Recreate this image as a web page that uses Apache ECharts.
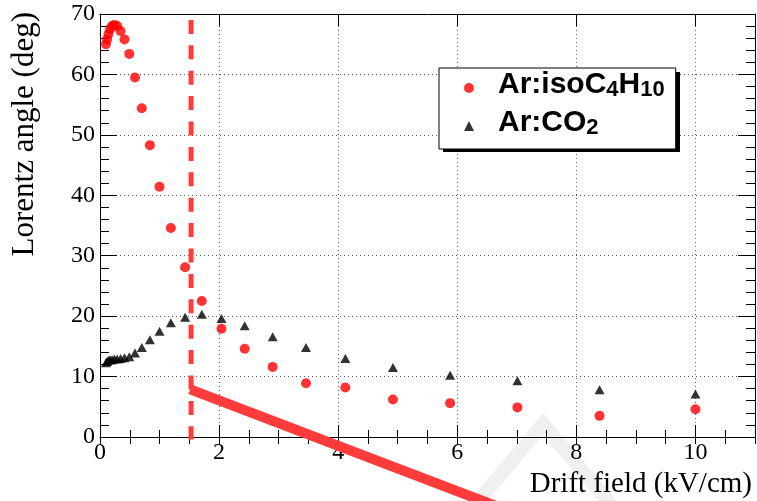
<!DOCTYPE html>
<html lang="en">
<head>
<meta charset="UTF-8">
<title>Lorentz angle vs drift field</title>
<script src="https://cdn.jsdelivr.net/npm/echarts@6/dist/echarts.min.js"></script>
<style>html,body{margin:0;padding:0;background:#fff}</style>
</head>
<body>
<div id="main" style="width:757px;height:501px"></div>
<script>
// drift field points (kV/cm), shared by both gas mixtures
var driftField = [0.100, 0.119, 0.142, 0.170, 0.203, 0.242, 0.289, 0.346, 0.412, 0.492,
                  0.588, 0.702, 0.838, 1.00, 1.19, 1.43, 1.71, 2.04, 2.43, 2.90,
                  3.46, 4.12, 4.92, 5.88, 7.01, 8.39, 10.0];
// Lorentz angle (deg)
var angleIsobutane = [65.0, 65.8, 66.7, 67.5, 68.0, 68.2, 68.0, 67.2, 65.8, 63.4,
                      59.5, 54.4, 48.3, 41.4, 34.6, 28.1, 22.5, 17.9, 14.6, 11.6,
                      8.9, 8.2, 6.2, 5.6, 4.9, 3.5, 4.6];
var angleCO2 = [12.3, 12.5, 12.7, 12.8, 12.8, 12.9, 12.9, 13.0, 13.1, 13.3,
                13.9, 14.8, 16.1, 17.5, 18.9, 19.8, 20.3, 19.6, 18.4, 16.6,
                14.8, 13.0, 11.5, 10.2, 9.3, 7.8, 7.1];
var seriesNames = ['Ar:isoC4H10', 'Ar:CO2'];

// red annotations drawn over the plot
var cutField = 1.53;
var cutMarker = [[cutField, 70], [cutField, -0.4]];
var slashLine = [[1.515, 7.88], [6.7, -11.6]];

function zip(xs, ys) {
    return xs.map(function (x, i) { return [x, ys[i]]; });
}

var serif = 'Liberation Serif';
var frameLine = {show: true, onZero: false, lineStyle: {color: '#000', width: 1}};
var dots = {show: true, lineStyle: {color: '#555', width: 1, type: [1, 3]}};
var noLabel = {show: false};

function edgeX(pos, step, len) {
    return {type: 'value', position: pos, min: 0, max: 11, interval: step,
        axisLine: step === 2 ? frameLine : {show: false},
        axisTick: {inside: true, length: len, lineStyle: {color: '#000'}},
        axisLabel: noLabel, splitLine: {show: false}};
}

var chart = echarts.init(document.getElementById('main'));
var option = {
    animation: false,
    backgroundColor: '#fff',
    grid: {left: 100, right: 2, top: 14, bottom: 64},
    legend: {
        data: [{name: seriesNames[0], icon: 'circle'}, {name: seriesNames[1], icon: 'triangle'}],
        orient: 'vertical',
        left: 439, top: 68,
        padding: [2, 11, 10, 25],
        itemGap: 7,
        itemWidth: 10, itemHeight: 10,
        z: 10,
        backgroundColor: '#fff', borderColor: '#000', borderWidth: 1,
        formatter: function (name) {
            if (name === seriesNames[0]) return '{m|Ar:isoC}{s|4}{m|H}{s|10}';
            return '{m|Ar:CO}{s|2}';
        },
        textStyle: {
            color: '#000',
            padding: [0, 0, 6, 19],
            rich: {
                m: {fontFamily: 'Liberation Sans', fontWeight: 'bold', fontSize: 30, lineHeight: 32, color: '#000'},
                s: {fontFamily: 'Liberation Sans', fontWeight: 'bold', fontSize: 22, lineHeight: 8,
                    verticalAlign: 'bottom', color: '#000'}
            }
        }
    },
    xAxis: [
        {
            type: 'value', position: 'bottom', min: 0, max: 11, interval: 2,
            axisLine: frameLine,
            axisTick: {inside: true, length: 12, lineStyle: {color: '#000'}},
            splitLine: dots,
            axisLabel: {margin: 4, color: '#000', fontFamily: serif, fontSize: 24, showMaxLabel: false},
            name: 'Drift field (kV/cm)', nameLocation: 'end', nameGap: -3,
            nameTextStyle: {fontFamily: serif, fontSize: 29, color: '#000',
                align: 'right', verticalAlign: 'top', padding: [33, 0, 0, 0]}
        },
        edgeX('top', 2, 12),
        edgeX('bottom', 0.5, 7),
        edgeX('top', 0.5, 7)
    ],
    yAxis: [
        {
            type: 'value', position: 'left', min: 0, max: 70, interval: 10,
            axisLine: frameLine,
            axisTick: {inside: true, length: 17, lineStyle: {color: '#000'}},
            minorTick: {show: true, splitNumber: 5, length: 9, lineStyle: {color: '#000'}},
            splitLine: dots,
            axisLabel: {margin: 5, color: '#000', fontFamily: serif, fontSize: 24},
            name: 'Lorentz angle (deg)', nameLocation: 'end', nameRotate: 90, nameGap: 2,
            nameTextStyle: {fontFamily: serif, fontSize: 31, color: '#000',
                align: 'right', verticalAlign: 'bottom', padding: [0, 0, 60, 0]}
        },
        {
            type: 'value', position: 'right', min: 0, max: 70, interval: 10,
            axisLine: frameLine,
            axisTick: {inside: true, length: 17, lineStyle: {color: '#000'}},
            minorTick: {show: true, splitNumber: 5, length: 9, lineStyle: {color: '#000'}},
            axisLabel: noLabel, splitLine: {show: false}
        }
    ],
    graphic: [
        {
            // faint watermark chevron
            type: 'polyline', z: -10, silent: true,
            shape: {points: [[475, 505], [543, 424], [611, 505]]},
            style: {stroke: '#f0f0f0', lineWidth: 14, fill: null}
        },
        {
            // drop shadow behind the legend box
            type: 'rect', z: 9, silent: true,
            shape: {x: 443, y: 72, width: 237, height: 80},
            style: {fill: '#000'}
        }
    ],
    series: [
        {
            name: seriesNames[0], type: 'scatter', symbol: 'circle', symbolSize: 10,
            itemStyle: {color: '#ff0000'}, data: zip(driftField, angleIsobutane)
        },
        {
            name: seriesNames[1], type: 'scatter', symbol: 'triangle', symbolSize: [10, 9],
            itemStyle: {color: '#000'}, data: zip(driftField, angleCO2)
        },
        {
            type: 'line', data: cutMarker, symbol: 'none', clip: false, silent: true, z: 5,
            lineStyle: {color: '#ff3b3b', width: 5, type: [14, 11.4], dashOffset: 19.5}
        },
        {
            type: 'line', data: slashLine, symbol: 'none', clip: false, silent: true, z: 6,
            lineStyle: {color: '#ff3b3b', width: 10}
        }
    ]
};
chart.setOption(option);
</script>
</body>
</html>
